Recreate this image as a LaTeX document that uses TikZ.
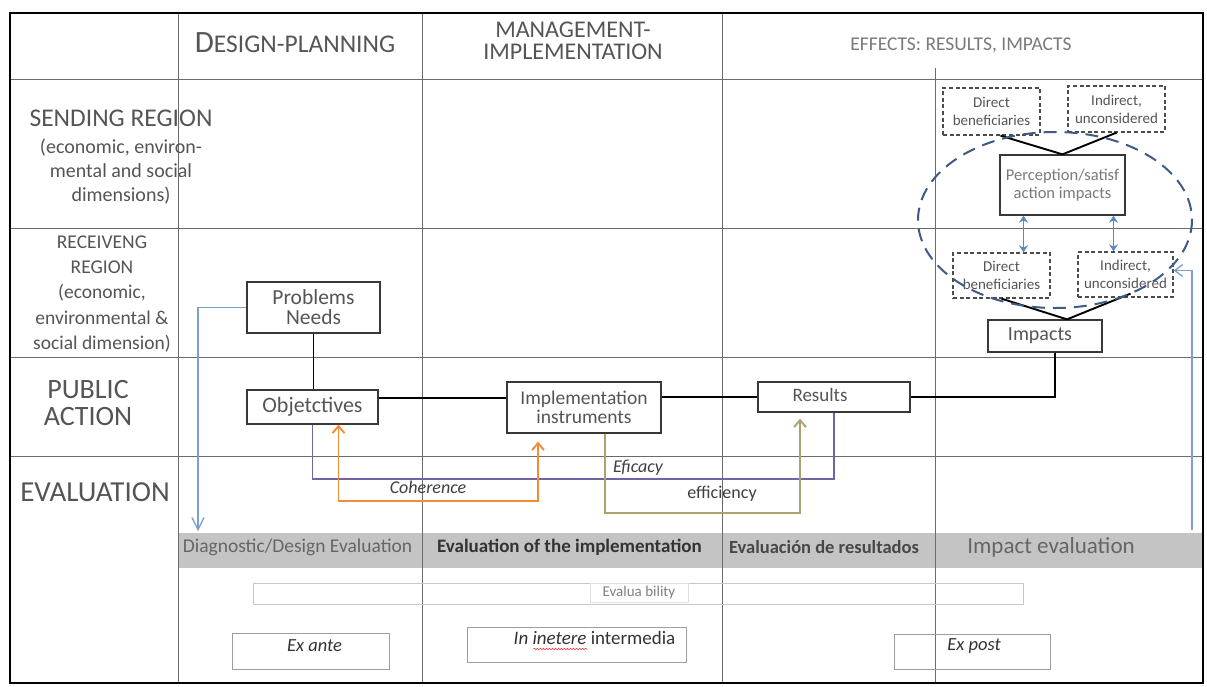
\documentclass[tikz,border=0pt]{standalone}
\usepackage{fontspec}
\setmainfont{Carlito}
\usetikzlibrary{arrows.meta,calc,decorations.pathmorphing}
\definecolor{txt}{HTML}{555555}
\definecolor{txtl}{HTML}{7A7A7A}
\definecolor{bandgray}{HTML}{C4C4C4}
\definecolor{orng}{HTML}{F28C38}
\definecolor{purp}{HTML}{7262A6}
\definecolor{oliv}{HTML}{A9A46C}
\definecolor{bluel}{HTML}{7C9FCB}
\definecolor{bluea}{HTML}{5B89C6}
\definecolor{ellc}{HTML}{3F5A85}
\newcommand{\myfs}[2]{\fontsize{#1pt}{#2pt}\selectfont}
\begin{document}
\begin{tikzpicture}[x=1pt,y=-1pt,
  gridl/.style={draw=black!58, line width=0.9pt},
  lab/.style={text=txt, inner sep=0pt, align=center},
  sbox/.style={draw=black!78, line width=1.3pt, fill=white, inner sep=0pt, align=center, text=txt},
  dbox/.style={draw=black!70, line width=1.3pt, dash pattern=on 4pt off 2.6pt, fill=white, inner sep=0pt, align=center, text=txt, font=\myfs{15}{18}},
  wbox/.style={draw=black!38, line width=0.8pt, inner sep=0pt, align=center},
  conn/.style={draw=black, line width=1.9pt},
  evl/.style={line width=1.9pt},
  barb/.style={-{Straight Barb[length=7pt,width=12pt]}},
  dblarr/.style={draw=bluea, line width=1.7pt, {Stealth[length=7pt,width=9pt]}-{Stealth[length=7pt,width=9pt]}},
  ell/.style={draw=ellc, line width=2pt, dash pattern=on 13pt off 8pt}
]
\useasboundingbox (0,0) rectangle (1207,686);
\fill[white] (0,0) rectangle (1207,686);
% gray band
\fill[bandgray] (178,533) rectangle (1203,568);
% grid
\draw[gridl] (10,79) -- (1203,79);
\draw[gridl] (10,228) -- (1203,228);
\draw[gridl] (10,357) -- (1203,357);
\draw[gridl] (10,456) -- (1203,456);
\draw[gridl] (178,13) -- (178,683);
\draw[gridl] (422,13) -- (422,683);
\draw[gridl] (722,13) -- (722,683);
\draw[gridl] (935,68) -- (935,683);
\draw[line width=2.2pt] (10,13) rectangle (1203,683);

% headers
\node[lab] (hdp) at (295,43) {{\myfs{31}{31}D}{\myfs{25.5}{25.5}ESIGN-PLANNING}};
\node[lab, font=\myfs{24}{22.5}] (hmi) at (573,41) {MANAGEMENT-\\IMPLEMENTATION};
\node[lab, text=txtl, font=\myfs{19.5}{20}] (hef) at (961,45) {EFFECTS: RESULTS, IMPACTS};

% row labels
\node[lab, font=\myfs{25.5}{26}] (lsr) at (121,118) {SENDING REGION};
\node[lab, font=\myfs{20}{24}] (lsr2) at (121,172) {(economic, environ-\\mental and social\\dimensions)};
\node[lab, font=\myfs{19.5}{25.2}] (lrr) at (102,294) {RECEIVENG\\REGION\\(economic,\\environmental \&\\social dimension)};
\node[lab, font=\myfs{28}{27}] (lpa) at (88,403) {PUBLIC\\ACTION};
\node[lab, font=\myfs{29}{29}] (lev) at (95,492) {EVALUATION};

% public action boxes
\node[sbox, minimum width=133pt, minimum height=51pt, font=\myfs{21.5}{20}] (prob) at (313.5,307.5) {Problems\\Needs};
\node[sbox, minimum width=131pt, minimum height=34pt, font=\myfs{22}{22}] (obj) at (312.5,407) {Objetctives};
\node[sbox, minimum width=154pt, minimum height=51pt, font=\myfs{19.5}{19.5}] (impl) at (584,407.5) {Implementation\\instruments};
\node[sbox, minimum width=152pt, minimum height=30pt, font=\myfs{19}{19}] (res) at (834,397) {\raisebox{4pt}{Results}\hspace*{28pt}};
\node[sbox, minimum width=114pt, minimum height=32pt, font=\myfs{20}{20}] (imp) at (1045,336) {\raisebox{4pt}{Impacts}\hspace*{10pt}};

% effects boxes
\node[dbox, minimum width=97pt, minimum height=47pt] (dbt) at (991.5,111.5) {Direct\\beneficiaries};
\node[dbox, minimum width=97pt, minimum height=46pt] (ibt) at (1116.5,109) {Indirect,\\unconsidered};
\node[sbox, minimum width=125pt, minimum height=60pt, font=\myfs{16.5}{18}, text=txtl] (perc) at (1062.5,185) {Perception/satisf\\action impacts};
\node[dbox, minimum width=97pt, minimum height=45pt] (dbb) at (1001.5,275.5) {Direct\\beneficiaries};
\node[dbox, minimum width=95pt, minimum height=45pt] (ibb) at (1125.5,274.5) {Indirect,\\unconsidered};

% black connectors
\draw[conn] (prob.south) -- (prob.south |- obj.north);
\draw[conn] ([yshift=9pt]obj.east) -- ([yshift=9pt]obj.east -| impl.west);
\draw[conn] (impl.east |- res.west) -- (res.west);
\draw[conn] (res.east) -| ([xshift=10pt]imp.south);
\draw[conn] ([xshift=9pt]dbt.south) -- (perc.north) -- (ibt.south);
\draw[conn] (dbb.south) -- ([xshift=22pt]imp.north) -- ([xshift=5pt,yshift=4pt]ibb.south);
\draw[dblarr] ([xshift=-39pt]perc.south) -- ([xshift=-39pt]perc.south |- dbb.north);
\draw[dblarr] ([xshift=51pt]perc.south) -- ([xshift=51pt]perc.south |- ibb.north);

% ellipse
\draw[ell] (1055,220) ellipse [x radius=137, y radius=88];

% blue feedback lines
\coordinate (diagtop) at (198,531);
\coordinate (impbot) at (1192,530);
\draw[draw=bluel, line width=1.3pt, -{Straight Barb[length=12pt,width=12pt]}] (prob.west) -| (diagtop);
\draw[draw=bluel, line width=1.3pt, -{Straight Barb[length=8pt,width=12pt]}] (impbot) |- ([yshift=4pt]ibb.east);

% evaluation connectors
\draw[evl, draw=purp] (obj.south) -- ++(0,54) -| (res.south);
\draw[evl, draw=orng, {Straight Barb[length=7pt,width=12pt]}-{Straight Barb[length=7pt,width=12pt]}] ([xshift=26pt]obj.south) -- ++(0,76) -| ([xshift=-46pt,yshift=-8pt]impl.south);
\draw[evl, draw=oliv, barb] ([xshift=21pt]impl.south) -- ++(0,79) -| ([xshift=-34pt,yshift=-6pt]res.south);
\node[lab, font=\myfs{18}{18}\itshape, text=black!75] (leff) at (638,468) {Eficacy};
\node[lab, font=\myfs{18}{18}\itshape, text=black!75] (lcoh) at (428,487) {Coherence};
\node[lab, font=\myfs{18}{18}, text=black!75] (lefi) at (722,494) {efficiency};

% band texts
\node[lab, font=\myfs{19.5}{20}, text=black!60] (tdiag) at (297.5,547) {Diagnostic/Design Evaluation};
\node[lab, font=\myfs{19}{20}\bfseries, text=black!80] (timpl) at (569.5,547) {Evaluation of the implementation};
\node[lab, font=\myfs{18.5}{20}\bfseries, text=black!72] (tres) at (824,547) {Evaluación de resultados};
\node[lab, font=\myfs{23}{24}, text=black!60] (timp) at (1051,547) {Impact evaluation};

% bottom boxes
\node[wbox, draw=black!22, minimum width=770pt, minimum height=21pt] (evb) at (638,593.5) {};
\node[wbox, draw=black!12, minimum width=98pt, minimum height=19pt, font=\myfs{15}{15}, text=black!50] (evlab) at (639,592.5) {Evalua bility};
\node[wbox, minimum width=157pt, minimum height=36pt] (exa) at (310.5,651) {};
\node[lab, font=\myfs{18.5}{19}\itshape, text=black!80] (exat) at (314.5,646) {Ex ante};
\node[wbox, minimum width=219pt, minimum height=35pt] (inter) at (576.5,644.5) {};
\node[lab, font=\myfs{19}{19}, text=black!80] (intert) at (594.5,638) {\textit{In inetere} intermedia};
\draw[red!80, line width=0.6pt, decorate, decoration={snake,amplitude=0.7pt,segment length=3pt}] ([xshift=-61pt,yshift=-11pt]intert.center) -- ([xshift=-7pt,yshift=-11pt]intert.center);
\node[wbox, minimum width=156pt, minimum height=35pt] (exp) at (972,651.5) {};
\node[lab, font=\myfs{18.5}{19}\itshape, text=black!80] (expt) at (974,646) {Ex post};
\end{tikzpicture}
\end{document}
